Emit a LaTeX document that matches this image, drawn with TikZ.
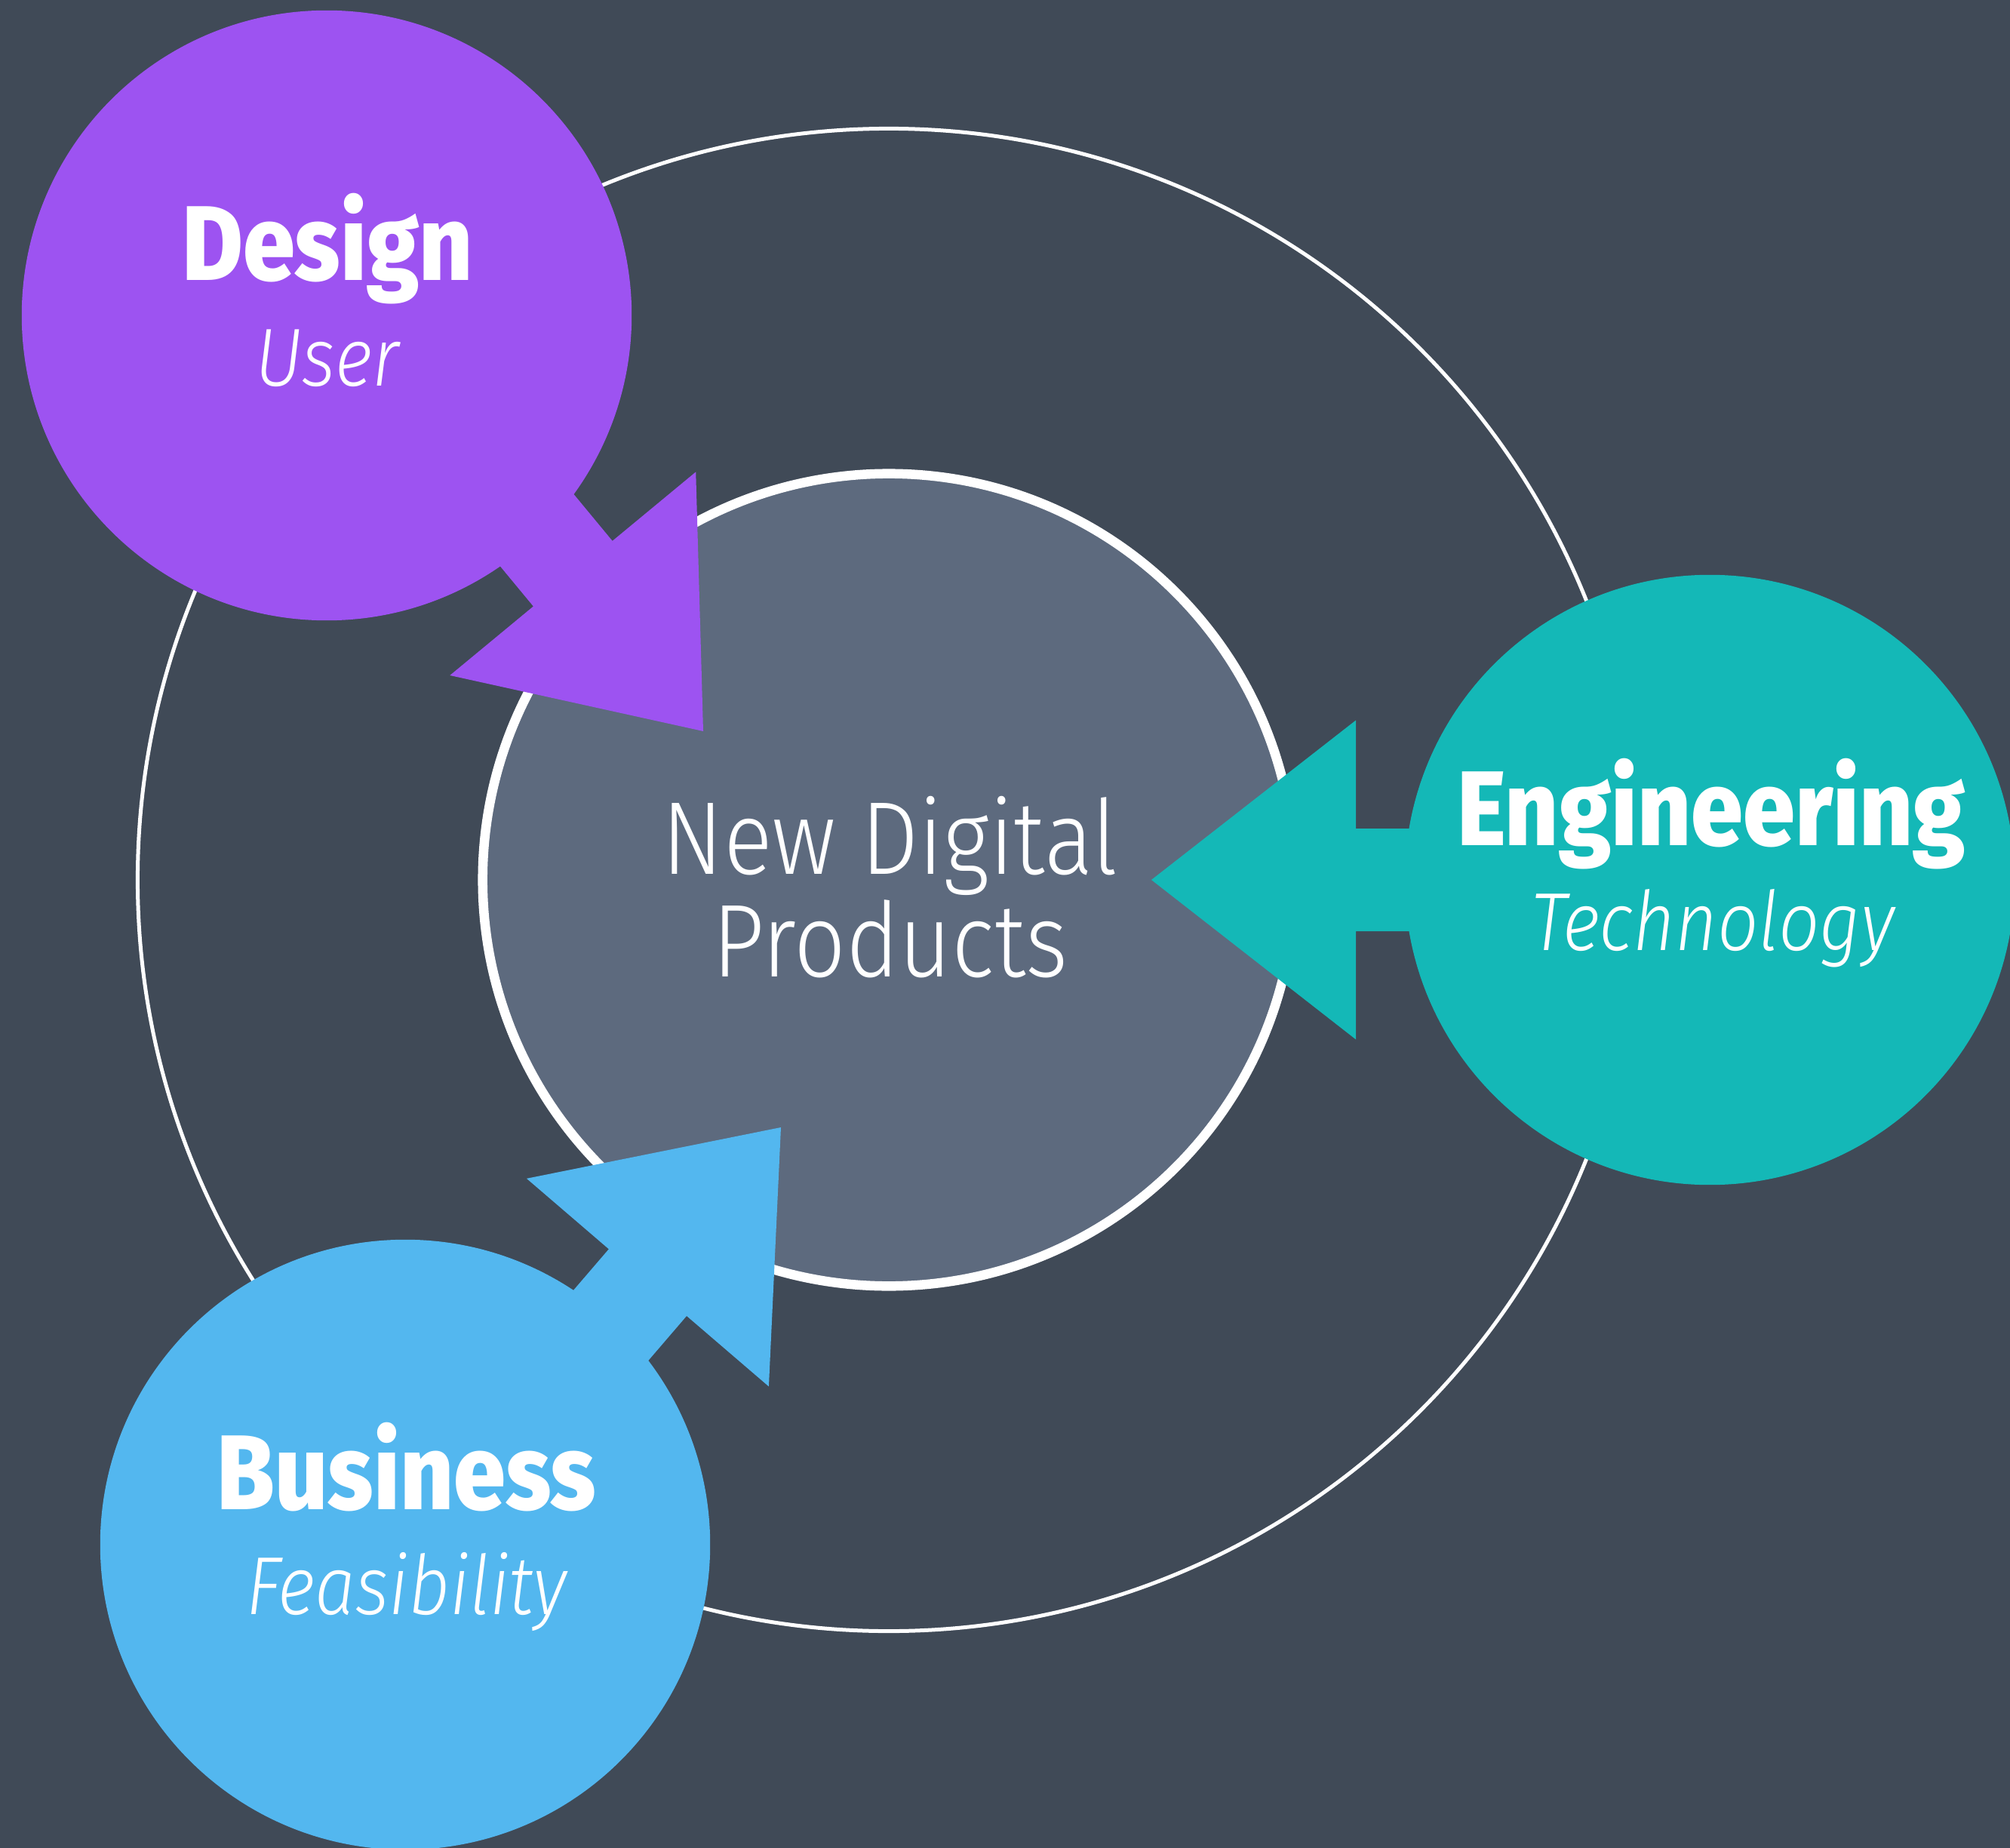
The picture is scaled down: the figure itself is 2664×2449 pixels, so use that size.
\documentclass[tikz,border=0pt]{standalone}
\usepackage{fontspec}
\setmainfont{Fira Sans}
\IfFontExistsTF{Fira Sans Light}
  {\newfontfamily\lightfont[FakeStretch=0.88]{Fira Sans Light}}
  {\newfontfamily\lightfont[FakeStretch=0.88]{Fira Sans}}
\IfFontExistsTF{Fira Sans ExtraBold}
  {\newfontfamily\heavyfont[FakeStretch=0.88]{Fira Sans ExtraBold}}
  {\newfontfamily\heavyfont[FakeStretch=0.88,UprightFont=*,BoldFont=*]{Fira Sans Bold}}
\definecolor{bgcol}{HTML}{404A57}
\definecolor{corecol}{HTML}{5D6A7E}
\definecolor{designcol}{HTML}{9D53F1}
\definecolor{engcol}{HTML}{14B8B7}
\definecolor{buscol}{HTML}{53B7EF}
\tikzset{
  disc/.style={circle, inner sep=0pt, outer sep=0pt, minimum size=8.08cm},
  title/.style={anchor=base, text=white, inner sep=0pt, font=\heavyfont\fontsize{40}{48}\selectfont},
  subtitle/.style={anchor=base, text=white, inner sep=0pt, font=\lightfont\itshape\fontsize{31}{37}\selectfont},
  coretext/.style={anchor=base, text=white, inner sep=0pt, font=\lightfont\fontsize{39}{47}\selectfont},
}
\begin{document}
\begin{tikzpicture}[x=0.01cm, y=-0.01cm]
\useasboundingbox (0,0) rectangle (2664,2449);
\fill[bgcol] (0,0) rectangle (2664,2449);
% rings
\node (ring) [circle, draw=white, line width=0.05cm, minimum size=19.9cm, inner sep=0pt] at (1178,1166) {};
\node (core) [circle, draw=white, fill=corecol, line width=0.125cm, minimum size=10.76cm, inner sep=0pt] at (1178,1166) {};
% discs
\node (design) [disc, fill=designcol] at (433,418) {};
\node (eng) [disc, fill=engcol] at (2266,1166) {};
\node (bus) [disc, fill=buscol] at (537,2047) {};
% arrows
\coordinate (dtip) at (932,969);
\coordinate (etip) at (1526,1166);
\coordinate (btip) at (1035,1494);
\begin{scope}[shift={(dtip)}, rotate=-50.4]
\fill[designcol] (0,0) -- (-271,211.5) -- (-271,68) -- (-621,68) -- (-621,-68) -- (-271,-68) -- (-271,-211.5) -- cycle;
\end{scope}
\begin{scope}[shift={(etip)}, rotate=180]
\fill[engcol] (0,0) -- (-271,211.5) -- (-271,68) -- (-621,68) -- (-621,-68) -- (-271,-68) -- (-271,-211.5) -- cycle;
\end{scope}
\begin{scope}[shift={(btip)}, rotate=49.35]
\fill[buscol] (0,0) -- (-271,211.5) -- (-271,68) -- (-621,68) -- (-621,-68) -- (-271,-68) -- (-271,-211.5) -- cycle;
\end{scope}
% texts
\node (dtitle) [title] at (434,372) {Design};
\node (dsub) [subtitle] at (434,512) {User};
\node (etitle) [title] at (2268,1120) {Engineering};
\node (esub) [subtitle] at (2270,1259) {Technology};
\node (btitle) [title] at (539,2000) {Business};
\node (bsub) [subtitle] at (539,2139) {Feasibility};
\node (core1) [coretext] at (1180,1158) {New Digital};
\node (core2) [coretext] at (1180,1294) {Products};
\end{tikzpicture}
\end{document}
